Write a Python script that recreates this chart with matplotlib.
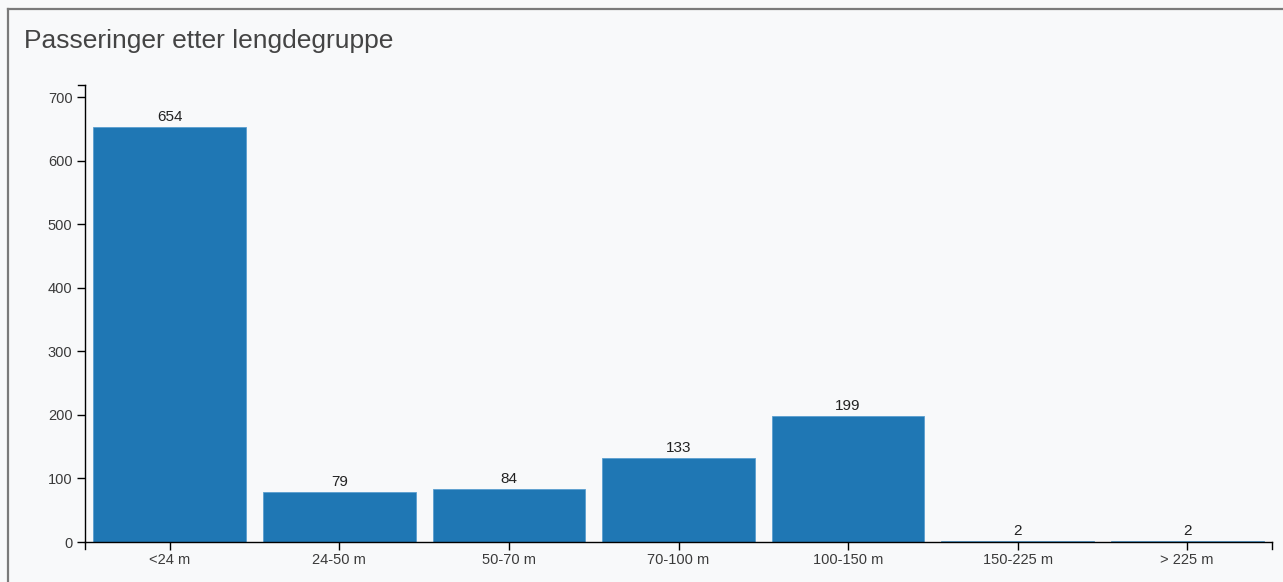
import matplotlib
matplotlib.use("Agg")
import matplotlib.pyplot as plt
from matplotlib.lines import Line2D

categories = ["<24 m", "24-50 m", "50-70 m", "70-100 m", "100-150 m", "150-225 m", "> 225 m"]
values = [654, 79, 84, 133, 199, 2, 2]
title = "Passeringer etter lengdegruppe"
yticks = [0, 100, 200, 300, 400, 500, 600, 700]

W, H = 1283, 582
plt.rcParams['font.family'] = ['Liberation Sans', 'DejaVu Sans']
fig = plt.figure(figsize=(W / 100, H / 100), dpi=100)
bg = "#f8f9fa"
fig.patch.set_facecolor(bg)

left, right, bottom, top = 85, 1272, 542, 85
ax = fig.add_axes([left / W, (H - bottom) / H, (right - left) / W, (bottom - top) / H])
ax.set_facecolor(bg)

x = list(range(len(categories)))
ax.bar(x, values, width=0.9, color="#1f77b4", edgecolor="#5b9fd0", linewidth=0.6)
ax.set_xlim(-0.5, len(categories) - 0.5)
ax.set_ylim(0, max(values) * 1.1)

for xi, v in zip(x, values):
    ax.annotate(str(v), (xi, v), xytext=(0, 2), textcoords="offset points",
                ha="center", va="bottom", fontsize=11, color="#222222")

ax.set_xticks(x)
ax.set_xticklabels(categories)
ax.set_yticks(yticks)
ax.tick_params(axis="both", direction="out", length=6, width=1, color="black",
               labelsize=10.5, labelcolor="#3a3a3a", pad=3)
ax.tick_params(axis="x", pad=2)
for s in ["top", "right"]:
    ax.spines[s].set_visible(False)
for s in ["left", "bottom"]:
    ax.spines[s].set_linewidth(1)
    ax.spines[s].set_color("black")

# outer ticks of domain paths
def figline(xs, ys, **kw):
    fig.add_artist(Line2D([a / W for a in xs], [1 - b / H for b in ys],
                          transform=fig.transFigure, **kw))

figline([left - 7, left], [top, top], color="black", lw=1)
figline([left, left], [bottom, bottom + 7], color="black", lw=1)
figline([right, right], [bottom, bottom + 7], color="black", lw=1)

# card border (top and left)
figline([8, W], [9, 9], color="#7a7a7a", lw=1.6)
figline([8, 8], [9, H], color="#7a7a7a", lw=1.6)

fig.text(24 / W, 1 - 41 / H, title, fontsize=19, color="#444444", ha="left", va="center")

fig.savefig("out.png", dpi=100, facecolor=bg)
